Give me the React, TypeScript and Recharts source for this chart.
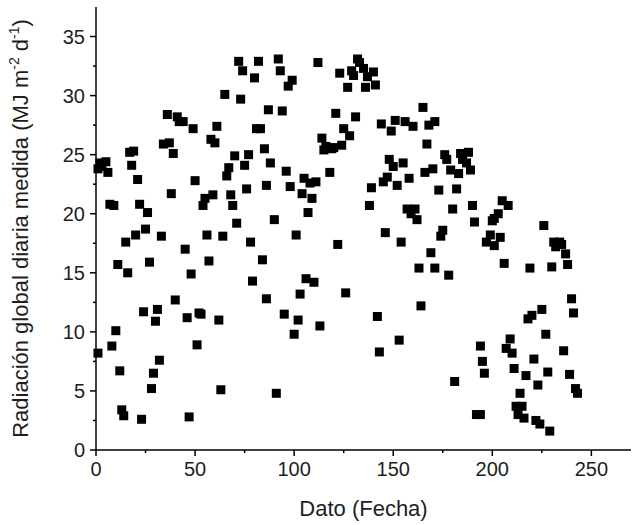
import React from 'react';
import { ScatterChart, Scatter, XAxis, YAxis } from 'recharts';

// Dato (Fecha) index
const dayIndex = [
  1, 1, 2, 3, 5, 6, 7, 8, 9, 10, 11, 12, 13, 14, 15, 16, 17, 18, 19, 20,
  21, 22, 23, 24, 25, 26, 27, 28, 29, 30, 31, 32, 33, 34, 36, 37, 38, 39, 40, 41,
  42, 44, 45, 46, 47, 48, 49, 50, 51, 52, 53, 54, 55, 56, 57, 58, 59, 60, 61, 62,
  63, 64, 65, 66, 67, 68, 69, 70, 71, 72, 73, 74, 75, 76, 77, 78, 79, 80, 81, 82,
  83, 84, 85, 86, 87, 86, 88, 90, 91, 92, 93, 94, 95, 96, 97, 98, 99, 100, 101, 102,
  103, 104, 105, 106, 107, 108, 109, 110, 111, 112, 113, 114, 115, 116, 118, 119, 120, 121, 122, 123,
  124, 125, 126, 127, 128, 129, 130, 131, 132, 133, 135, 136, 137, 138, 139, 140, 141, 142, 143, 144,
  145, 146, 147, 148, 149, 150, 151, 152, 153, 154, 155, 156, 157, 158, 159, 160, 161, 162, 163, 164,
  165, 166, 167, 168, 169, 170, 171, 171, 173, 174, 175, 176, 177, 178, 179, 180, 181, 182, 183, 184,
  185, 187, 188, 189, 190, 191, 192, 194, 194, 195, 196, 197, 199, 201, 200, 201, 203, 204, 205, 206,
  207, 208, 209, 210, 211, 212, 213, 214, 215, 216, 217, 218, 219, 220, 221, 222, 223, 224, 225, 226,
  227, 228, 229, 230, 231, 232, 234, 235, 236, 237, 238, 239, 240, 241, 242, 243,
];

// Radiación global diaria medida (MJ m-2 d-1)
const radiation = [
  8.2, 23.8, 24.3, 24.0, 24.4, 23.5, 20.8, 8.8, 20.7, 10.1, 15.7, 6.7, 3.4, 2.9, 17.6, 15.0, 25.2, 24.1, 25.3, 18.2,
  22.9, 20.8, 2.6, 11.7, 18.7, 20.1, 15.9, 5.2, 6.5, 10.9, 11.9, 7.6, 18.1, 25.9, 28.4, 26.0, 21.7, 25.1, 12.7, 28.2,
  27.8, 27.8, 17.0, 11.2, 2.8, 14.9, 27.2, 22.8, 8.9, 11.6, 11.5, 20.7, 21.3, 18.2, 16.0, 26.3, 21.6, 26.0, 27.4, 11.0,
  5.1, 18.1, 30.1, 23.2, 23.9, 21.6, 20.7, 24.9, 19.2, 32.9, 29.7, 32.1, 24.1, 22.1, 25.0, 17.6, 14.3, 31.5, 27.2, 32.9,
  27.2, 16.1, 25.5, 22.4, 28.8, 12.8, 24.3, 19.5, 4.8, 33.1, 32.1, 28.7, 11.5, 23.6, 30.8, 22.3, 31.3, 9.8, 18.2, 11.0,
  13.2, 21.7, 23.0, 14.5, 20.1, 22.6, 21.3, 14.2, 22.7, 32.8, 10.5, 26.4, 25.4, 25.7, 23.5, 25.5, 25.6, 28.5, 17.4, 31.9,
  25.8, 27.2, 13.3, 30.7, 26.6, 32.1, 31.7, 28.2, 33.1, 32.8, 32.3, 30.7, 31.6, 20.7, 22.2, 32.0, 30.9, 11.3, 8.3, 27.6,
  22.7, 18.4, 23.1, 24.6, 27.0, 24.0, 27.9, 22.4, 9.3, 17.6, 24.3, 27.8, 20.4, 23.0, 20.0, 27.4, 20.4, 19.5, 15.4, 12.2,
  29.0, 23.5, 25.9, 27.5, 16.7, 23.8, 27.8, 15.4, 22.0, 18.1, 18.6, 25.0, 24.6, 14.8, 23.7, 20.4, 5.8, 22.1, 23.4, 25.1,
  24.6, 24.3, 25.2, 23.7, 20.7, 19.3, 3.0, 3.0, 8.8, 7.5, 6.5, 17.6, 18.2, 17.3, 19.4, 19.6, 20.0, 18.0, 21.1, 15.8,
  8.6, 20.7, 9.4, 8.2, 6.9, 3.7, 3.0, 4.8, 3.7, 2.7, 6.3, 11.1, 15.4, 11.4, 7.7, 2.5, 5.5, 2.2, 11.9, 19.0,
  9.8, 6.6, 1.6, 15.5, 17.6, 17.2, 17.6, 17.4, 8.4, 16.6, 15.7, 6.4, 12.8, 11.6, 5.2, 4.8,
];

const xTicks = [0, 25, 50, 75, 100, 125, 150, 175, 200, 225, 250];
const yTicks = [0, 2.5, 5, 7.5, 10, 12.5, 15, 17.5, 20, 22.5, 25, 27.5, 30, 32.5, 35];

const data = dayIndex.map((d, i) => ({ x: d, y: radiation[i] }));

const FONT = '"Liberation Sans", Arial, sans-serif';
const TEXT = '#1e1e1e';

const XTick = (props: any) => {
  const { x, y, payload } = props;
  const major = payload.value % 50 === 0;
  return (
    <g>
      <line x1={x} y1={y} x2={x} y2={y + (major ? 6 : 3)} stroke="#000" strokeWidth={1.5} />
      {major && (
        <text x={x} y={y + 26} textAnchor="middle" fontSize={20} fill={TEXT} fontFamily={FONT}>
          {payload.value}
        </text>
      )}
    </g>
  );
};

const YTick = (props: any) => {
  const { x, y, payload } = props;
  const major = payload.value % 5 === 0;
  return (
    <g>
      <line x1={x} y1={y} x2={x - (major ? 6 : 3)} y2={y} stroke="#000" strokeWidth={1.5} />
      {major && (
        <text x={x - 11} y={y + 7} textAnchor="end" fontSize={20} fill={TEXT} fontFamily={FONT}>
          {payload.value}
        </text>
      )}
    </g>
  );
};

const YTitle = (props: any) => {
  const { viewBox } = props;
  const cy = viewBox.y + viewBox.height / 2;
  const cx = 28;
  return (
    <text
      x={cx}
      y={cy}
      transform={`rotate(-90, ${cx}, ${cy})`}
      textAnchor="middle"
      fontSize={22}
      fill={TEXT}
      fontFamily={FONT}
    >
      Radiación global diaria medida (MJ m
      <tspan dy={-9} fontSize={14}>-2</tspan>
      <tspan dy={9}> d</tspan>
      <tspan dy={-9} fontSize={14}>-1</tspan>
      <tspan dy={9}>)</tspan>
    </text>
  );
};

const XTitle = (props: any) => {
  const { viewBox } = props;
  const cx = viewBox.x + viewBox.width / 2;
  return (
    <text x={cx} y={516} textAnchor="middle" fontSize={22} fill={TEXT} fontFamily={FONT}>
      Dato (Fecha)
    </text>
  );
};

const SquareDot = (props: any) => {
  const { cx, cy } = props;
  return <rect x={cx - 4.5} y={cy - 4.5} width={9} height={9} fill="#000" />;
};

export default function App() {
  return (
    <div style={{ width: 634, height: 525, background: '#fff' }}>
      <style>{'body{margin:0}'}</style>
      <ScatterChart width={634} height={525} margin={{ top: 7, right: 3, bottom: 0, left: 0 }}>
        <XAxis
          type="number"
          dataKey="x"
          domain={[0, 270]}
          ticks={xTicks}
          interval={0}
          height={75}
          tickSize={0}
          tickMargin={0}
          tickLine={false}
          axisLine={{ stroke: '#000', strokeWidth: 1.5 }}
          tick={<XTick />}
          label={{ content: <XTitle /> }}
        />
        <YAxis
          type="number"
          dataKey="y"
          domain={[0, 37.5]}
          ticks={yTicks}
          interval={0}
          width={96}
          tickSize={0}
          tickMargin={0}
          tickLine={false}
          axisLine={{ stroke: '#000', strokeWidth: 1.5 }}
          tick={<YTick />}
          label={{ content: <YTitle /> }}
        />
        <Scatter data={data} shape={<SquareDot />} isAnimationActive={false} />
      </ScatterChart>
    </div>
  );
}
